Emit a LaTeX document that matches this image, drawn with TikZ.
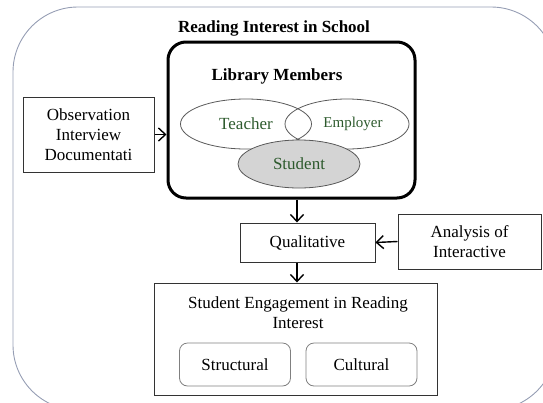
\documentclass[tikz,border=0pt]{standalone}
\usepackage{fontspec}
\setmainfont{Liberation Serif}
\usetikzlibrary{arrows.meta,shapes.geometric}

\definecolor{framegray}{RGB}{150,158,180}
\definecolor{namegreen}{RGB}{45,90,45}

\begin{document}
\begin{tikzpicture}[x=1pt,y=-1pt,
	font=\fontsize{17}{20}\selectfont,
	box/.style={draw=black!80, line width=1pt, inner sep=2pt, align=center},
	member/.style={draw=black!65, line width=0.8pt, ellipse, inner sep=0pt, text=namegreen},
	part/.style={draw=black!50, line width=0.8pt, rounded corners=8pt, minimum width=111pt, minimum height=43pt},
	arr/.style={line width=1.4pt, -{Straight Barb[length=7pt,width=13pt]}}]
		\useasboundingbox (0,0) rectangle (543,402);
		\begin{scope}
			\clip (0,0) rectangle (543,402);
			\draw [framegray, line width=0.9pt, rounded corners=65pt] (13,7) rectangle (556,410);
		\end{scope}

		\node (title)[font=\fontsize{17}{20}\selectfont\bfseries] at (274,28) {Reading Interest in School};
		\node (lib)[draw, line width=3pt, rounded corners=18pt, minimum width=247pt, minimum height=156pt] at (291.5,120) {};
		\node (libname)[font=\fontsize{17}{20}\selectfont\bfseries] at (277,76) {Library Members};

		\node (teacher)[member, minimum width=131pt, minimum height=50pt] at (246,124) {Teacher};
		\node (employer)[member, minimum width=124pt, minimum height=50pt, font=\fontsize{15}{18}\selectfont] at (347,124) {\hspace*{12pt}Employer};
		\node (student)[member, fill=black!17, minimum width=122pt, minimum height=48pt] at (299,164) {Student};

		\node (obs)[box, minimum width=131pt, minimum height=75pt] at (88.5,134.5) {Observation\\Interview\\Documentati};
		\node (qual)[box, minimum width=135pt, minimum height=39pt] at (307.5,242.5) {Qualitative};
		\node (ana)[box, minimum width=143pt, minimum height=55pt] at (469.5,241.5) {Analysis of\\Interactive};
		\node (eng)[box, minimum width=283pt, minimum height=112pt] at (295.5,339) {};
		\node (engname)[align=center] at (298,313) {Student Engagement in Reading\\Interest};
		\node (struct)[part] at (235,364.5) {Structural};
		\node (cult)[part] at (361.5,364.5) {Cultural};

		\coordinate (drop) at (297,0);
		\draw [arr](obs.east) -- (obs.east -| lib.west);
		\draw [arr](lib.south -| drop) -- (qual.north -| drop);
		\draw [arr](ana.west) -- (qual.east);
		\draw [arr](qual.south -| drop) -- (eng.north -| drop);
	\end{tikzpicture}
\end{document}
